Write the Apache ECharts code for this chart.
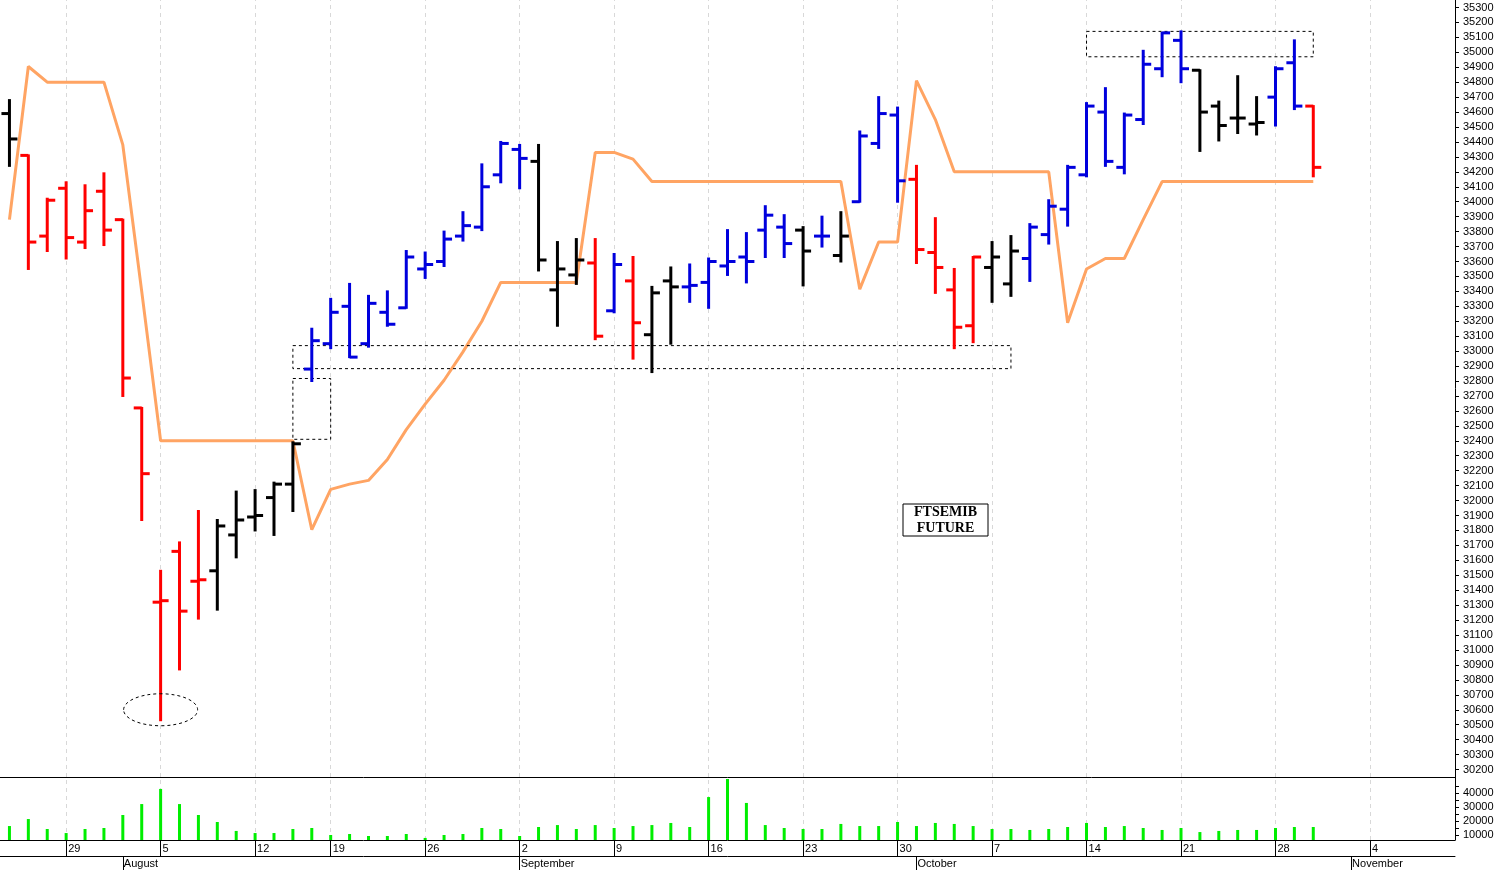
<!DOCTYPE html>
<html><head><meta charset="utf-8">
<script src="https://cdn.jsdelivr.net/npm/echarts@6/dist/echarts.min.js"></script>
<style>html,body{margin:0;padding:0;background:#fff}#c{width:1503px;height:870px}</style>
</head><body><div id="c"></div>
<script>
const dates = ['07-24','07-25','07-26','07-29','07-30','07-31','08-01','08-02','08-05','08-06','08-07','08-08','08-09','08-12','08-13','08-14','08-16','08-19','08-20','08-21','08-22','08-23','08-26','08-27','08-28','08-29','08-30','09-02','09-03','09-04','09-05','09-06','09-09','09-10','09-11','09-12','09-13','09-16','09-17','09-18','09-19','09-20','09-23','09-24','09-25','09-26','09-27','09-30','10-01','10-02','10-03','10-04','10-07','10-08','10-09','10-10','10-11','10-14','10-15','10-16','10-17','10-18','10-21','10-22','10-23','10-24','10-25','10-28','10-29','10-30','10-31','11-01','11-04','11-05','11-06','11-07','11-08'];
const opens  = [34590,34310,33770,34090,33730,34070,33880,32620,31320,31660,31460,31530,31770,31890,32020,32110,32880,33050,33300,33050,33260,33290,33550,33600,33770,33830,34180,34350,34270,33410,33510,33590,33270,33470,33110,33470,33430,33460,33570,33630,33810,33830,33810,33770,33640,34000,34390,34580,34150,33660,33410,33170,33560,33450,33620,33780,33950,34180,34600,34230,34550,34890,35080,34880,34640,34560,34520,34700,34930,34640];
const highs  = [34680,34310,34020,34130,34110,34190,33880,32620,31530,31720,31930,31870,32060,32070,32120,32390,33150,33350,33450,33370,33400,33670,33660,33800,33930,34250,34400,34380,34380,33730,33750,33750,33650,33630,33430,33560,33580,33620,33810,33790,33970,33910,33830,33900,33930,34470,34700,34630,34240,33890,33550,33630,33730,33770,33850,34010,34240,34660,34760,34590,35010,35130,35140,34880,34670,34840,34700,34900,35080,34640];
const lows   = [34240,33550,33670,33620,33690,33710,32700,31870,30530,30870,31210,31270,31620,31800,31770,31930,32800,33020,32960,33030,33170,33290,33490,33570,33740,33810,34130,34090,33540,33170,33450,33080,33260,32950,32860,33050,33330,33290,33510,33460,33630,33630,33440,33700,33600,34000,34360,34000,33590,33390,33020,33060,33330,33370,33470,33720,33840,34170,34240,34190,34520,34840,34800,34340,34410,34460,34450,34510,34620,34170];
const closes = [34420,33730,34010,33760,33940,33810,32820,32180,31330,31260,31470,31830,31870,31900,32110,32380,33070,33260,32960,33320,33180,33630,33580,33750,33840,34100,34390,34290,33610,33550,33610,33100,33580,33190,33390,33430,33440,33600,33600,33600,33910,33720,33670,33770,33770,34440,34590,34140,33680,33560,33160,33630,33630,33670,33830,33970,34230,34640,34270,34580,34920,35130,34890,34600,34510,34560,34530,34890,34640,34230];
const barColors = ['k','r','r','r','r','r','r','r','r','r','r','k','k','k','k','k','b','b','b','b','b','b','b','b','b','b','b','b','k','k','k','r','b','r','k','k','b','b','b','b','b','b','k','b','k','b','b','b','r','r','r','r','k','k','b','b','b','b','b','b','b','b','b','k','k','k','k','b','b','r'];
const stopLine = [33880,34905,34800,34800,34800,34800,34380,33400,32400,32400,32400,32400,32400,32400,32400,32400,31805,32075,32110,32135,32275,32475,32645,32805,32995,33200,33460,33460,33460,33460,33460,34330,34330,34285,34135,34135,34135,34135,34135,34135,34135,34135,34135,34135,34135,33415,33730,33730,34810,34550,34200,34200,34200,34200,34200,34200,33190,33550,33620,33620,33880,34135,34135,34135,34135,34135,34135,34135,34135,34135];
const volumes = [16400,21400,14300,11400,14300,15000,24300,32100,42900,32100,24300,19300,12900,11400,11400,14300,15000,10000,10700,9300,9300,10700,7900,10000,10700,15000,14300,9300,15700,17100,14300,17100,15000,16400,17100,18600,15700,37100,50000,32900,17100,15000,14300,14300,17900,16400,16400,19300,16400,18600,17900,16400,14300,14300,13600,14300,15700,18600,15700,16400,15000,13600,15000,12100,12900,13600,13600,15000,15700,15700];
const weekLabels = ['07-29','08-05','08-12','08-19','08-26','09-02','09-09','09-16','09-23','09-30','10-07','10-14','10-21','10-28','11-04'];
const monthStarts = {'08-01':'August','09-02':'September','10-01':'October','11-01':'November'};
const priceTicks = [];
for (let v = 30200; v <= 35300; v += 100) priceTicks.push(v);
const volTicks = [10000,20000,30000,40000];

const colMap = {b:'#0000dd', r:'#ff0000', k:'#000000'};
const ohlc = opens.map((o,i)=>[i,o,closes[i],lows[i],highs[i]]);
const isWeek = (i)=>weekLabels.indexOf(dates[i])>=0;
const isMonth = (i)=>monthStarts[dates[i]]!==undefined;
const gridLines = {silent:true,z:0,zlevel:0,symbol:'none',label:{show:false},lineStyle:{color:'#d8d8d8',type:[4,4],width:1},
  data:weekLabels.map(d=>({xAxis:d}))};

const chart = echarts.init(document.getElementById('c'));
const axisTxt = {color:'#000', fontSize:11, fontFamily:'Liberation Sans, Arial'};
chart.setOption({
  animation:false,
  grid:[{left:0,right:48,top:0,height:777},{left:0,right:48,top:777,height:63}],
  xAxis:[
    {type:'category',gridIndex:0,data:dates,axisLine:{show:true,lineStyle:{color:'#000'}},axisTick:{show:false},axisLabel:{show:false},splitLine:{show:false}},
    {type:'category',gridIndex:1,data:dates,axisLine:{show:true,lineStyle:{color:'#000'}},
     axisTick:{show:true,alignWithLabel:true,length:16,interval:(i)=>isWeek(i),lineStyle:{color:'#000'}},
     axisLabel:{interval:(i)=>isWeek(i),formatter:(v)=>String(parseInt(v.slice(3),10)),align:'left',margin:3,padding:[0,0,0,2],...axisTxt},
     splitLine:{show:false}},
    {type:'category',gridIndex:1,data:dates,position:'bottom',offset:16,axisLine:{show:true,lineStyle:{color:'#000'}},
     axisTick:{show:true,alignWithLabel:true,length:14,interval:(i)=>isMonth(i),lineStyle:{color:'#000'}},
     axisLabel:{interval:(i)=>isMonth(i),formatter:(v)=>monthStarts[v]||'',align:'left',margin:2,padding:[0,0,0,1],...axisTxt}}
  ],
  yAxis:[
    {type:'value',gridIndex:0,position:'right',min:30150,max:35350,
     axisLine:{show:true,lineStyle:{color:'#000'}},
     axisTick:{show:true,length:4,customValues:priceTicks,lineStyle:{color:'#000'}},
     axisLabel:{customValues:priceTicks,formatter:(v)=>String(v),margin:8,...axisTxt},splitLine:{show:false}},
    {type:'value',gridIndex:1,position:'right',min:6430,max:51430,
     axisLine:{show:true,lineStyle:{color:'#000'}},
     axisTick:{show:true,length:4,customValues:[10000,15000,20000,25000,30000,35000,40000,45000],lineStyle:{color:'#000'}},
     axisLabel:{customValues:volTicks,formatter:(v)=>String(v),margin:8,...axisTxt},splitLine:{show:false}}
  ],
  series:[
    {type:'line',xAxisIndex:0,yAxisIndex:0,data:[],z:0,markLine:gridLines},
    {type:'line',xAxisIndex:1,yAxisIndex:1,data:[],z:0,markLine:gridLines},
    {type:'custom',xAxisIndex:0,yAxisIndex:0,data:ohlc,encode:{x:0,y:[1,2,3,4]},z:10,
     renderItem:(params,api)=>{
       const i=api.value(0);
       const o=api.coord([i,api.value(1)]), c=api.coord([i,api.value(2)]);
       const l=api.coord([i,api.value(3)]), h=api.coord([i,api.value(4)]);
       const col=colMap[barColors[params.dataIndex]];
       const st={stroke:col,lineWidth:3};
       return {type:'group',children:[
         {type:'line',shape:{x1:h[0],y1:h[1]-1,x2:l[0],y2:l[1]+1},style:st},
         {type:'line',shape:{x1:o[0]-8,y1:o[1],x2:o[0],y2:o[1]},style:st},
         {type:'line',shape:{x1:c[0],y1:c[1],x2:c[0]+8,y2:c[1]},style:st}
       ]};
     }},
    {type:'line',xAxisIndex:0,yAxisIndex:0,data:stopLine,symbol:'none',lineStyle:{color:'#ffa463',width:3},z:8,
     markArea:{silent:true,z:9,itemStyle:{color:'rgba(0,0,0,0)',borderColor:'#000',borderWidth:1,borderType:[3,3]},
       data:[[{xAxis:'10-14',yAxis:35140},{xAxis:'10-30',yAxis:34970}],
             [{xAxis:'08-14',yAxis:33037},{xAxis:'10-08',yAxis:32883}],
             [{xAxis:'08-14',yAxis:32817},{xAxis:'08-19',yAxis:32410}]]}},
    {type:'bar',xAxisIndex:1,yAxisIndex:1,data:volumes,barWidth:3,itemStyle:{color:'#00ee00'},z:10}
  ]
});
const ec = chart.convertToPixel({xAxisIndex:0,yAxisIndex:0},['08-05',30600]);
chart.setOption({graphic:[
  {type:'ellipse',z:20,shape:{cx:ec[0],cy:ec[1],rx:37,ry:16},style:{fill:'none',stroke:'#000',lineWidth:1,lineDash:[3,3]}},
  {type:'rect',z:20,shape:{x:903,y:504,width:85,height:32},style:{fill:'#fff',stroke:'#000',lineWidth:1}},
  {type:'text',z:21,x:945.5,y:520,style:{text:'FTSEMIB\nFUTURE',align:'center',verticalAlign:'middle',font:'bold 14px "Liberation Serif", serif',lineHeight:16,fill:'#000'}}
]});
</script></body></html>
